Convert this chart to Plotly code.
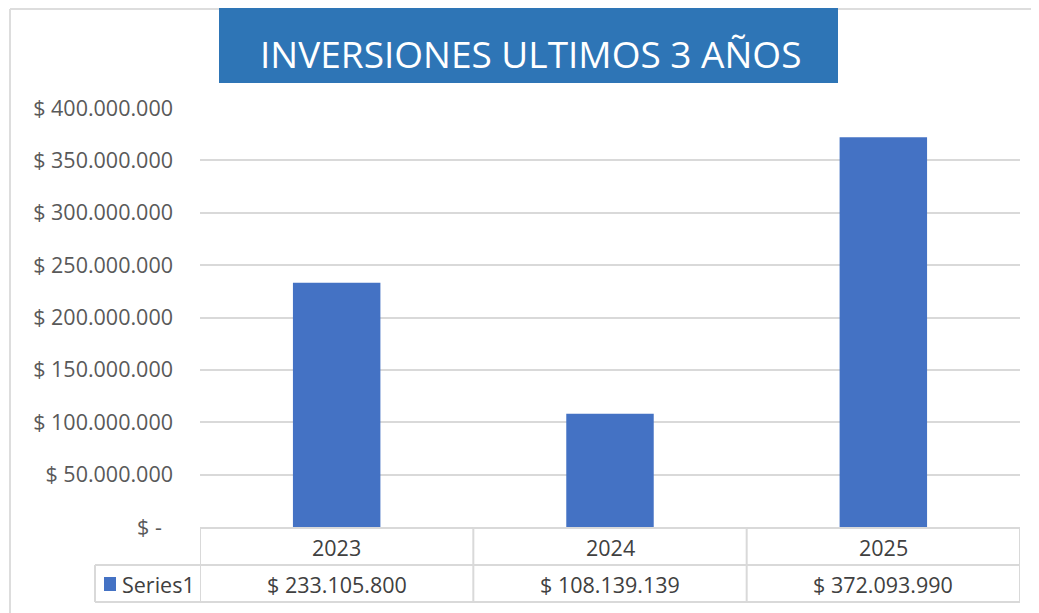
import plotly.graph_objects as go

# ---- data ----
years = ["2023", "2024", "2025"]
values = [233105800, 108139139, 372093990]
value_labels = ["$ 233.105.800", "$ 108.139.139", "$ 372.093.990"]
series_name = "Series1"
title_text = "INVERSIONES ULTIMOS 3 AÑOS"
tick_vals = [0, 50000000, 100000000, 150000000, 200000000,
             250000000, 300000000, 350000000, 400000000]
tick_text = ["$ -\u00a0\u00a0", "$ 50.000.000", "$ 100.000.000", "$ 150.000.000",
             "$ 200.000.000", "$ 250.000.000", "$ 300.000.000",
             "$ 350.000.000", "$ 400.000.000"]

# ---- layout geometry (pixels, page coords minus body margin) ----
OFF = 8
W, H = 1039 - OFF, 613 - OFF
ML, MR, MT, MB = 200 - OFF, 19, 108 - OFF, 86
PW, PH = W - ML - MR, H - MT - MB


def px(x):
    # x given in reference page pixels
    return (x - OFF - ML) / PW


def py(y):
    return (H - MB - (y - OFF)) / PH


GRID = "#D9D9D9"
BAR = "#4472C4"
TXT = "#595959"
TBL = "#404040"
FONT = "Open Sans, Noto Sans, sans-serif"
FS = 21.5

fig = go.Figure()
fig.add_trace(go.Bar(
    x=years, y=values, name=series_name,
    marker=dict(color=BAR, line=dict(width=0)),
    width=0.32, showlegend=False, hoverinfo="x+y",
))

shapes = []
# chart border (top and left)
shapes.append(dict(type="line", xref="paper", yref="paper",
                   x0=px(10), x1=px(W + 20), y0=py(OFF + 1), y1=py(OFF + 1),
                   line=dict(color="#DDDDDD", width=2)))
shapes.append(dict(type="line", xref="paper", yref="paper",
                   x0=px(10), x1=px(10), y0=py(OFF + 1), y1=py(H + 20),
                   line=dict(color="#DDDDDD", width=2)))
# title box
shapes.append(dict(type="rect", xref="paper", yref="paper",
                   x0=px(219), x1=px(838), y0=py(OFF), y1=py(83),
                   fillcolor="#2E75B6", line=dict(width=0), layer="above"))

# data table
row1_bot = py(565)
row2_bot = py(602)
n = len(years)
for i in range(n + 1):
    shapes.append(dict(type="line", xref="x", yref="paper",
                       x0=i - 0.5, x1=i - 0.5, y0=0, y1=row2_bot,
                       line=dict(color=GRID, width=2)))
for yy in (row1_bot, row2_bot):
    shapes.append(dict(type="line", xref="paper", yref="paper",
                       x0=px(95), x1=1, y0=yy, y1=yy,
                       line=dict(color=GRID, width=2)))
shapes.append(dict(type="line", xref="paper", yref="paper",
                   x0=px(95), x1=px(95), y0=row1_bot, y1=row2_bot,
                   line=dict(color=GRID, width=2)))
# legend key square
shapes.append(dict(type="rect", xref="paper", yref="paper",
                   x0=px(104), x1=px(116), y0=py(577), y1=py(591),
                   fillcolor=BAR, line=dict(width=0)))

annotations = []
annotations.append(dict(text=title_text, xref="paper", yref="paper",
                        x=px(530), y=py(54), showarrow=False,
                        xanchor="center", yanchor="middle",
                        font=dict(family=FONT, size=37, color="white")))
for i, (yr, lab) in enumerate(zip(years, value_labels)):
    annotations.append(dict(text=yr, xref="x", yref="paper", x=i,
                            y=py(547), showarrow=False, xanchor="center",
                            yanchor="middle",
                            font=dict(family=FONT, size=FS, color=TBL)))
    annotations.append(dict(text=lab, xref="x", yref="paper", x=i,
                            y=py(584), showarrow=False, xanchor="center",
                            yanchor="middle",
                            font=dict(family=FONT, size=FS, color=TBL)))
annotations.append(dict(text=series_name, xref="paper", yref="paper",
                        x=px(120), y=py(584), showarrow=False,
                        xanchor="left", yanchor="middle",
                        font=dict(family=FONT, size=FS, color=TBL)))

fig.update_layout(
    width=W, height=H,
    margin=dict(l=ML, r=MR, t=MT, b=MB, pad=0),
    paper_bgcolor="white", plot_bgcolor="white",
    shapes=shapes, annotations=annotations,
    xaxis=dict(type="category", range=[-0.5, n - 0.5], showticklabels=False,
               showgrid=False, zeroline=False, showline=True,
               linecolor=GRID, linewidth=2, ticks=""),
    yaxis=dict(range=[0, 400000000], tickvals=tick_vals, ticktext=tick_text,
               showgrid=True, gridcolor=GRID, gridwidth=2, zeroline=False,
               showline=False, ticks="", ticklabelstandoff=26,
               tickfont=dict(family=FONT, size=FS, color=TXT)),
    font=dict(family=FONT),
)

fig.write_html("out.html")
